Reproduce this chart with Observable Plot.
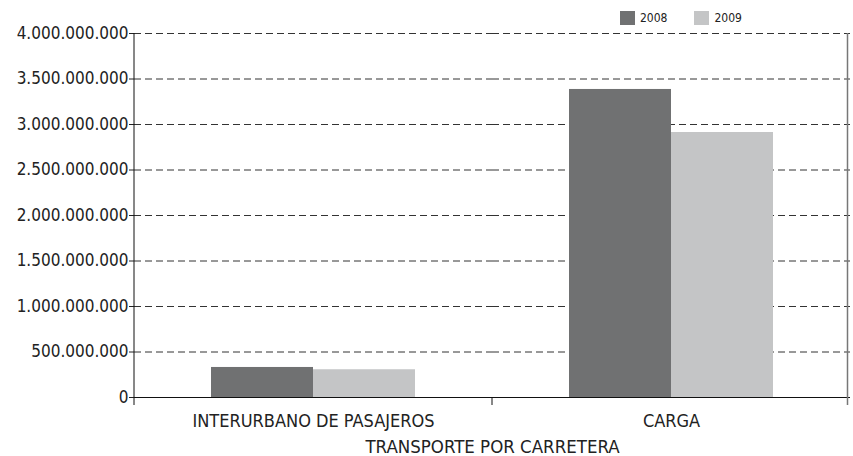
<!DOCTYPE html>
<html><head><meta charset="utf-8">
<script src="https://cdn.jsdelivr.net/npm/d3@7"></script>
<script src="https://cdn.jsdelivr.net/npm/@observablehq/plot@0.6"></script>
<style>
body{margin:0;background:#fff;font-family:"DejaVu Sans Condensed","Liberation Sans Narrow",sans-serif;}
#wrap{position:relative;width:853px;height:456px;}
#legend{position:absolute;left:620px;top:11px;display:flex;gap:0;font-size:12px;color:#222;}
#legend .it{display:flex;align-items:center;margin-right:27px;}
#legend .sw{width:15px;height:14px;margin-right:5px;}
</style></head>
<body><div id="wrap"><div id="legend"></div></div>
<script>
const categories = ["INTERURBANO DE PASAJEROS", "CARGA"];
const years = ["2008", "2009"];
const values2008 = [330000000, 3385000000];
const values2009 = [305000000, 2912000000];
const colors = ["#707172", "#c4c5c6"];
const yTicks = [0, 500000000, 1000000000, 1500000000, 2000000000, 2500000000, 3000000000, 3500000000, 4000000000];
const axisLabel = "TRANSPORTE POR CARRETERA";

const data = [];
categories.forEach((c, i) => {
  data.push({cat: c, year: years[0], value: values2008[i]});
  data.push({cat: c, year: years[1], value: values2009[i]});
});
const fmt = v => d3.format(",")(v).replace(/,/g, ".");

const chart = Plot.plot({
  width: 853, height: 456,
  marginTop: 33, marginLeft: 133, marginRight: 3, marginBottom: 59,
  style: {fontFamily: '"DejaVu Sans Condensed","Liberation Sans Narrow",sans-serif', fontSize: "16px", color: "#222", background: "#fff"},
  fx: {domain: categories, padding: 0},
  x: {domain: years, paddingInner: 0, paddingOuter: 0.743},
  y: {domain: [0, 4000000000]},
  color: {domain: years, range: colors},
  marks: [
    Plot.gridY(yTicks.filter(d => d > 0), {stroke: "#333", strokeOpacity: 1, strokeDasharray: "7,4"}),
    Plot.barY(data, {fx: "cat", x: "year", y: "value", fill: "year"}),
    Plot.ruleY([0], {stroke: "#111"}),
    Plot.axisY(yTicks, {tickFormat: fmt, tickSize: 5, tickPadding: 1, fontSize: 17, label: null, stroke: "#222"}),
    Plot.axisFx({anchor: "bottom", tickSize: 0, tickPadding: 17, fontSize: 18, label: axisLabel, labelAnchor: "center", labelOffset: 55}),
    Plot.axisX({ticks: [], label: null})
  ]
});
document.getElementById("wrap").appendChild(chart);
d3.select(chart).selectAll("g[aria-label='fx-axis label'] text").style("font-size", "18.5px");

// structural lines derived from scales
const fx = chart.scale("fx"), y = chart.scale("y");
const svg = d3.select(chart);
const x0 = fx.apply(categories[0]);
const xEnd = fx.apply(categories[categories.length - 1]) + fx.bandwidth;
const yTop = y.apply(4000000000), yBase = y.apply(0);
const g = svg.append("g");
g.append("line").attr("x1", x0).attr("x2", x0).attr("y1", yTop).attr("y2", yBase + 8).attr("stroke", "#111");
g.append("line").attr("x1", xEnd - 2.5).attr("x2", xEnd - 2.5).attr("y1", yTop).attr("y2", yBase + 8).attr("stroke", "#777").attr("stroke-width", 1.5);
categories.slice(1).forEach(c => {
  const xx = fx.apply(c);
  g.append("line").attr("x1", xx).attr("x2", xx).attr("y1", yBase).attr("y2", yBase + 8).attr("stroke", "#111");
});

const leg = d3.select("#legend");
years.forEach((yr, i) => {
  const it = leg.append("div").attr("class", "it");
  it.append("div").attr("class", "sw").style("background", colors[i]);
  it.append("span").text(yr);
});
</script></body></html>
